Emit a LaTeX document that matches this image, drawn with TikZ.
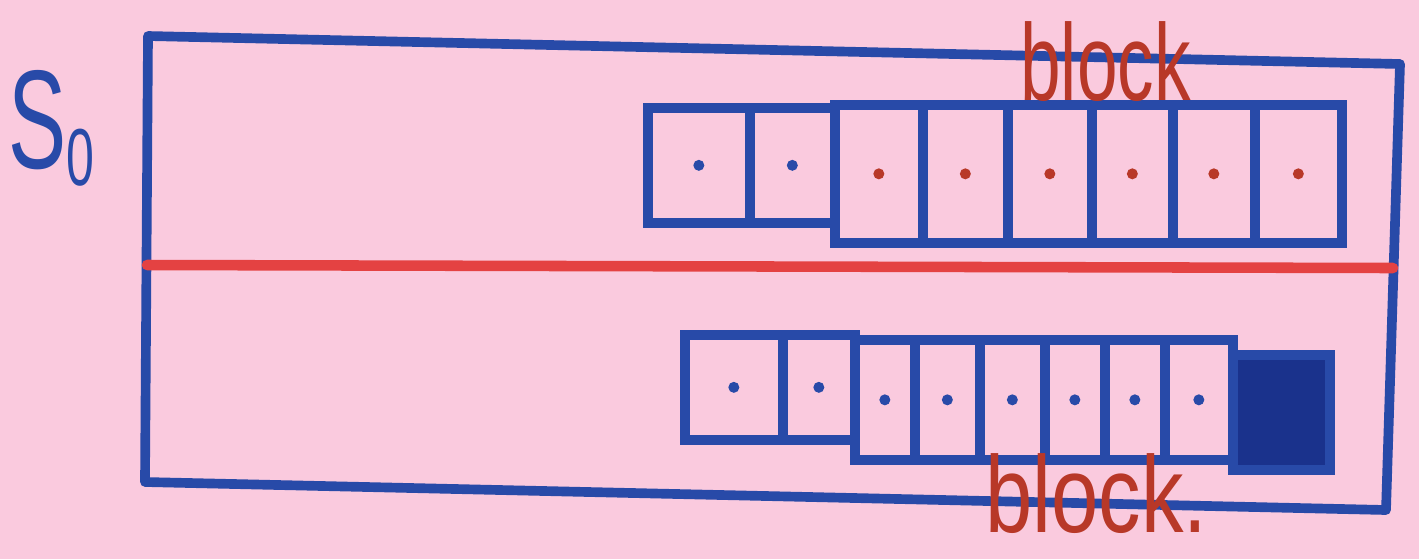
\documentclass[tikz,border=0pt]{standalone}
\usepackage{fontspec}
\setmainfont{Liberation Sans}
\usetikzlibrary{positioning}

\definecolor{paper}{RGB}{250,202,222}
\definecolor{penblue}{RGB}{40,74,168}
\definecolor{inkdark}{RGB}{26,50,140}
\definecolor{penred}{RGB}{228,66,66}
\definecolor{inkred}{RGB}{184,56,40}

\begin{document}
\begin{tikzpicture}[x=0.02cm, y=-0.02cm,
    cell/.style={rectangle, draw=penblue, line width=5.5pt, inner sep=0pt, anchor=north west},
    pip/.style={circle, fill=#1, inner sep=0pt, minimum size=0.22cm},
    hand/.style={text=inkred, inner sep=0pt, anchor=base west, transform shape}]

        % Paper
        \fill[paper] (0,0) rectangle (1419,559);
        \useasboundingbox (0,0) rectangle (1419,559);

        % Outer frame, split by the red line
        \coordinate (tl) at (148,36);
        \coordinate (tr) at (1400,64);
        \coordinate (br) at (1386,510);
        \coordinate (bl) at (145,482);
        \coordinate (ml) at (147,265);
        \coordinate (mr) at (1393,268);
        \draw[penblue, line width=5.5pt, line join=round] (tl) -- (tr) -- (br) -- (bl) -- cycle;
        \draw[penred, line width=6pt, line cap=round] (ml) -- (mr);

        % Top row: two loose cells, then the block
        \foreach \i/\xa/\xb in {1/643/745, 2/745/830}
        {
          \node[cell, minimum width={(\xb-\xa)*0.02cm}, minimum height=2.3cm] (t\i) at (\xa,103) {};
          \node[pip=penblue] (dt\i) at (t\i) {};
        }
        \foreach \i/\xa/\xb in {3/830/918, 4/918/1003, 5/1003/1087, 6/1087/1168, 7/1168/1250, 8/1250/1337}
        {
          \node[cell, minimum width={(\xb-\xa)*0.02cm}, minimum height=2.76cm] (t\i) at (\xa,100) {};
          \node[pip=inkred] (dt\i) at (t\i) {};
        }

        % Bottom row: two loose cells, then the block with a filled last cell
        \foreach \i/\xa/\xb in {1/680/778, 2/778/850}
        {
          \node[cell, minimum width={(\xb-\xa)*0.02cm}, minimum height=2.1cm] (b\i) at (\xa,330) {};
          \node[pip=penblue] (db\i) at (b\i) {};
        }
        \foreach \i/\xa/\xb in {3/850/910, 4/910/975, 5/975/1040, 6/1040/1100, 7/1100/1160, 8/1160/1228}
        {
          \node[cell, minimum width={(\xb-\xa)*0.02cm}, minimum height=2.4cm] (b\i) at (\xa,335) {};
          \node[pip=penblue] (db\i) at (b\i) {};
        }
        \node[cell, fill=inkdark, minimum width=1.94cm, minimum height=2.3cm] (b9) at (1228,350) {};

        % Labels
        \node[hand, text=penblue, xscale=0.62, font=\fontsize{80}{80}\selectfont] (s0) at (8,168)
          {S\raisebox{-10pt}{\fontsize{46}{46}\selectfont 0}};
        \node[hand, xscale=0.67, font=\fontsize{62}{62}\selectfont] (lbltop) at (1020,100) {block};
        \node[hand, xscale=0.78, font=\fontsize{62}{62}\selectfont] (lblbot) at (985,532) {block.};
      \end{tikzpicture}
\end{document}
